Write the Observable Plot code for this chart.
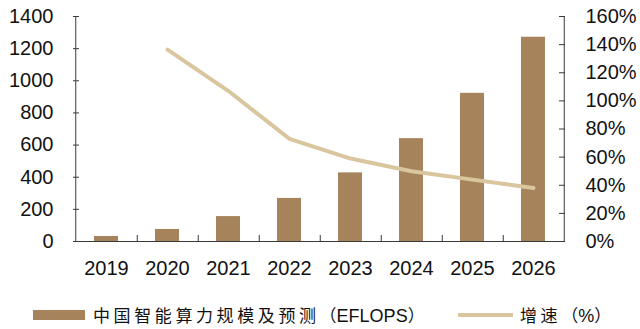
<!DOCTYPE html>
<html>
<head>
<meta charset="utf-8">
<script src="https://cdn.jsdelivr.net/npm/d3@7"></script>
<script src="https://cdn.jsdelivr.net/npm/@observablehq/plot@0.6"></script>
<style>
  html, body { margin: 0; padding: 0; background: #fff; }
  #wrap { position: relative; width: 640px; height: 329px; }
  #legend { position: absolute; left: 0; top: 305px; height: 20px; width: 640px;
            font-family: "Noto Sans CJK SC", "Liberation Sans", sans-serif; font-size: 17px; color: #111; }
  #legend .sw { position: absolute; }
  #legend .txt { position: absolute; top: 0; line-height: 20px; white-space: nowrap; }
  .cjk { letter-spacing: 3.6px; }
  .lat { font-family: "Liberation Sans", Arial, sans-serif; font-size: 18px; }
</style>
</head>
<body>
<div id="wrap">
  <div id="chart"></div>
  <div id="legend"></div>
</div>
<script>
// Years on the category axis
const years = ["2019", "2020", "2021", "2022", "2023", "2024", "2025", "2026"];
// China intelligent computing scale (EFLOPS), left axis
const computing = [31, 75, 155, 268, 427, 640, 922, 1271];
// Year-on-year growth (%), right axis
const growth = [null, 136.5, 107, 73, 59, 50, 44, 38];
// Axis tick values
const leftTicks = [0, 200, 400, 600, 800, 1000, 1200, 1400];
const rightTicks = [0, 20, 40, 60, 80, 100, 120, 140, 160];

const barColor = "#A6835B";
const lineColor = "#D9C69E";
const axisColor = "#3a3a3a";

// The growth series shares the left scale: 160% maps onto 1400
const k = 1400 / 160;
const barRows = years.map((year, i) => ({year, value: computing[i]}));
const lineRows = years.map((year, i) => ({year, pct: growth[i]})).filter(d => d.pct != null);

const W = 640, H = 285, mL = 73, mR = 75, mT = 16, mB = 44;
const innerW = W - mL - mR, innerH = H - mT - mB;
const half = innerW / years.length / 2;

const chart = Plot.plot({
  width: W,
  height: H,
  marginLeft: mL,
  marginRight: mR,
  marginTop: mT,
  marginBottom: mB,
  style: {fontFamily: "'Liberation Sans', Arial, sans-serif", fontSize: "20px", color: "#111", background: "#fff"},
  x: {domain: years, paddingInner: 0.61, paddingOuter: 0.305},
  y: {domain: [0, 1400]},
  marks: [
    Plot.barY(barRows, {x: "year", y: "value", fill: barColor}),
    Plot.line(lineRows, {x: "year", y: d => d.pct * k, stroke: lineColor, strokeWidth: 4, strokeLinejoin: "round"}),
    // axis lines
    Plot.ruleY([0], {stroke: axisColor}),
    Plot.ruleX([years[0]], {dx: -half, stroke: axisColor}),
    Plot.ruleX([years[years.length - 1]], {dx: half, stroke: axisColor}),
    // inward tick marks
    Plot.tickY(leftTicks, {y: d => d, insetRight: innerW - 6, stroke: axisColor}),
    Plot.tickY(rightTicks, {y: d => d * k, insetLeft: innerW - 6, stroke: axisColor}),
    Plot.tickX(years.slice(0, -1), {x: d => d, dx: half, insetTop: innerH - 6, stroke: axisColor}),
    // tick labels
    Plot.axisY({anchor: "left", ticks: leftTicks, tickSize: 0, tickPadding: 20, label: null, tickFormat: d => String(d)}),
    Plot.axisY({anchor: "right", ticks: rightTicks.map(p => p * k), tickSize: 0, tickPadding: 20, label: null,
                tickFormat: d => Math.round(d / k) + "%", textAnchor: "start"}),
    Plot.axisX({tickSize: 0, tickPadding: 19, label: null})
  ]
});
document.getElementById("chart").appendChild(chart);

// Legend below the chart
const legend = document.getElementById("legend");
legend.innerHTML = `
  <div class="sw" style="left:33px; top:5px; width:52px; height:10px; background:${barColor}"></div>
  <div class="txt" style="left:93px"><span class="cjk">中国智能算力规模及预测</span>（<span class="lat">EFLOPS</span>）</div>
  <div class="sw" style="left:458px; top:8px; width:55px; height:4px; background:${lineColor}"></div>
  <div class="txt" style="left:520px"><span class="cjk">增速</span>（<span class="lat">%</span>）</div>
`;
</script>
</body>
</html>
